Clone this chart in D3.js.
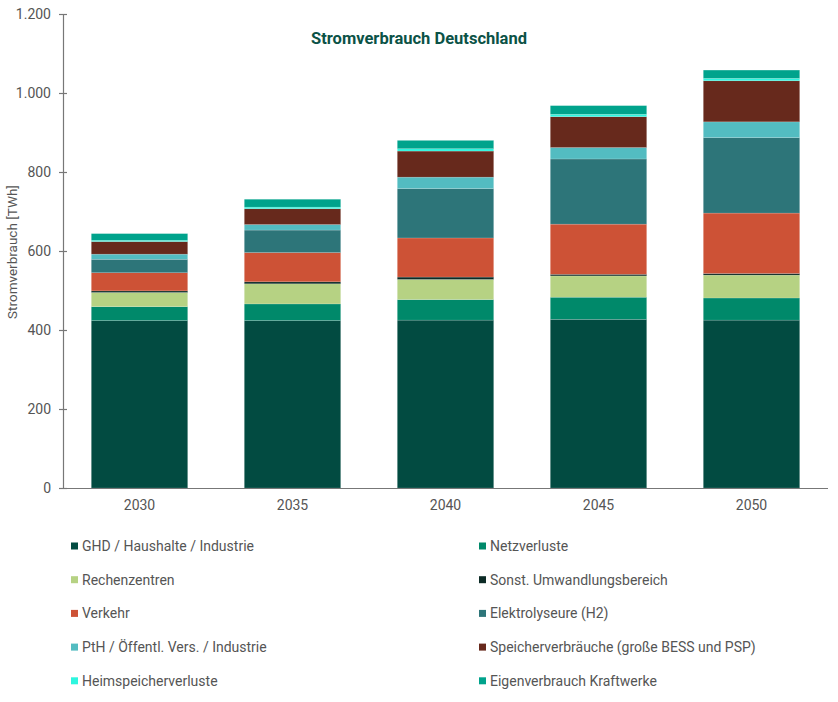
<!DOCTYPE html>
<html>
<head>
<meta charset="utf-8">
<script src="https://d3js.org/d3.v7.min.js"></script>
<style>
  body { margin: 0; background: #fff; font-family: Roboto, sans-serif; }
  .y-axis text, .x-axis text { font-family: Roboto, sans-serif; font-size: 14px; fill: #555; }
  .y-axis path, .x-axis path { stroke: #777; stroke-width: 1.2; }
  .y-axis line { stroke: #777; stroke-width: 1.2; }
  .legend text { font-family: Roboto, sans-serif; font-size: 14px; fill: #555; }
</style>
</head>
<body>
<script>
// Jahre
var years = ["2030", "2035", "2040", "2045", "2050"];

// Verbrauchskategorien (Reihenfolge von unten nach oben)
var categories = [
  "GHD / Haushalte / Industrie",
  "Netzverluste",
  "Rechenzentren",
  "Sonst. Umwandlungsbereich",
  "Verkehr",
  "Elektrolyseure (H2)",
  "PtH / Öffentl. Vers. / Industrie",
  "Speicherverbräuche (große BESS und PSP)",
  "Heimspeicherverluste",
  "Eigenverbrauch Kraftwerke"
];

var colors = ["#024b41", "#00896a", "#b6d283", "#0c2b26", "#cd5236",
              "#2d7579", "#53bcc1", "#67291c", "#2ef6df", "#00a38c"];

// Werte in TWh je Kategorie, für 2030..2050
var ghd        = [424, 424, 425, 427, 425];
var netz       = [35, 42, 52, 56, 56];
var rechen     = [36, 51, 51, 54, 58];
var sonst      = [4, 5, 6, 4, 4];
var verkehr    = [46, 74, 99, 127, 153];
var elektro    = [34, 57, 125, 165, 191];
var pth        = [13, 14, 29, 29, 40];
var speicher   = [32, 40, 66, 78, 104];
var heim       = [3, 4, 6, 6, 6];
var eigen      = [17, 20, 21, 22, 21];

var series = [ghd, netz, rechen, sonst, verkehr, elektro, pth, speicher, heim, eigen];

var yTicks = [0, 200, 400, 600, 800, 1000, 1200];

var rows = years.map(function(y, i) {
  var r = { year: y };
  categories.forEach(function(c, j) { r[c] = series[j][i]; });
  return r;
});

var W = 838, H = 702;
var svg = d3.select("body").append("svg").attr("width", W).attr("height", H);

var x = d3.scaleBand().domain(years).range([63, 828]).paddingInner(0.37).paddingOuter(0.185);
var y = d3.scaleLinear().domain([0, 1200]).range([488, 14]);

var de = d3.formatLocale({ decimal: ",", thousands: ".", grouping: [3], currency: ["", " €"] });
var fmt = de.format(",d");

var stacked = d3.stack().keys(categories)(rows);

svg.append("g").selectAll("g")
  .data(stacked)
  .enter().append("g")
  .attr("fill", function(d, i) { return colors[i]; })
  .selectAll("rect")
  .data(function(d) { return d; })
  .enter().append("rect")
  .attr("x", function(d) { return x(d.data.year); })
  .attr("width", x.bandwidth())
  .attr("y", function(d) { return y(d[1]); })
  .attr("height", function(d) { return y(d[0]) - y(d[1]); })
  .attr("stroke", "#ffffff")
  .attr("stroke-opacity", 0.25)
  .attr("stroke-width", 0.6);

// Y-Achse
var yAxis = svg.append("g")
  .attr("class", "y-axis")
  .attr("transform", "translate(63,0)")
  .call(d3.axisLeft(y).tickValues(yTicks).tickFormat(fmt).tickSizeInner(4).tickSizeOuter(0).tickPadding(8));
yAxis.selectAll(".tick line").attr("x2", 4).attr("x1", -4);

// X-Achse
var xAxis = svg.append("g")
  .attr("class", "x-axis")
  .attr("transform", "translate(0,488)")
  .call(d3.axisBottom(x).tickSize(0).tickPadding(12));
xAxis.select(".domain").attr("d", "M59,0.5H828");

// Achsentitel
svg.append("text")
  .attr("transform", "translate(17,252) rotate(-90)")
  .attr("text-anchor", "middle")
  .style("font-size", "13.5px")
  .style("fill", "#555")
  .text("Stromverbrauch [TWh]");

// Titel
svg.append("text")
  .attr("x", 419).attr("y", 44)
  .attr("text-anchor", "middle")
  .style("font-size", "16.5px")
  .style("font-weight", "bold")
  .style("fill", "#0b5246")
  .text("Stromverbrauch Deutschland");

// Legende
var leg = svg.append("g").attr("class", "legend");
categories.forEach(function(c, i) {
  var col = i % 2, row = Math.floor(i / 2);
  var lx = col === 0 ? 71 : 479;
  var ly = 546 + row * 33.7;
  leg.append("rect").attr("x", lx).attr("y", ly - 3.5).attr("width", 7).attr("height", 7).attr("fill", colors[i]);
  leg.append("text").attr("x", lx + 11).attr("y", ly).attr("dy", "0.35em").text(c);
});
</script>
</body>
</html>
